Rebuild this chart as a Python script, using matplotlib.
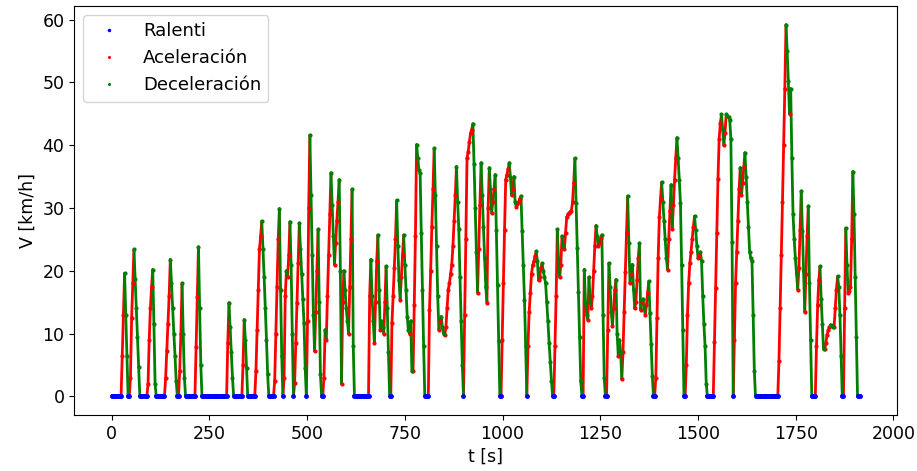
import numpy as np
import matplotlib
matplotlib.use('Agg')
import matplotlib.pyplot as plt
from matplotlib.collections import LineCollection

# speed read every 3 s (t = 0, 3, ..., 1914)
t = np.arange(0, 1915, 3)
v = np.array([
    0, 0, 0, 0, 0, 0, 0, 0, 0, 6.5,
    13, 19.6, 13, 6.5, 0, 0, 3, 12.5, 18, 23.4,
    18.7, 14, 9.4, 4.7, 0, 0, 0, 0, 0, 0,
    0, 2, 9, 14, 17.5, 20.2, 11.5, 2, 0, 0,
    0, 0, 0, 0, 0, 0, 2.9, 7.3, 11.6, 16,
    21.8, 18, 14, 10, 6.5, 2.5, 0, 0, 4, 10,
    18, 10, 3, 0, 0, 0, 0, 0, 0, 0,
    0, 0, 7.9, 15.9, 23.8, 14, 5, 0, 0, 0,
    0, 0, 0, 0, 0, 0, 0, 0, 0, 0,
    0, 0, 0, 0, 0, 0, 0, 0, 0, 8.5,
    14.9, 11, 7, 3, 0, 0, 0, 0, 0, 0,
    0, 0, 5, 12.2, 9, 4.5, 0, 0, 0, 0,
    0, 0, 0, 4, 10.5, 17, 23.4, 25.5, 27.9, 23.5,
    19, 14, 9, 3.5, 0, 0, 0, 0, 0, 2.5,
    10, 17.5, 25, 29.9, 17, 6.5, 0, 3, 16, 20,
    19, 22.5, 27.8, 21, 10, 0, 2.1, 8.5, 14.9, 21.2,
    27.6, 23.5, 19.5, 15.5, 11.7, 4.5, 0, 12, 30, 41.6,
    32, 22.5, 13, 7.2, 13.5, 20, 26.6, 15, 3.5, 0,
    0, 3, 10.6, 9, 16, 22.5, 29, 35.6, 30.5, 25.5,
    21, 24.5, 28, 31, 34.5, 20, 2, 15, 20, 17,
    14, 12, 10, 17.5, 25, 33, 8, 0, 0, 0,
    0, 0, 0, 0, 0, 0, 0, 0, 0, 0,
    16, 21.8, 16, 12, 8.5, 15, 21.5, 25.7, 17, 10.6,
    12, 11, 10, 15, 20.7, 14, 7, 0, 0, 11.7,
    16, 20.5, 25, 31.2, 24, 18.5, 15.4, 19, 22.5, 25.7,
    21, 17, 12.7, 10.5, 10, 12, 4, 4, 14.5, 25.5,
    40.1, 38, 36, 35.6, 26, 17, 8, 0, 0, 0,
    0, 13.8, 20, 27, 33, 39.5, 32, 24, 16, 10.6,
    12, 12.7, 11, 10, 9.8, 11, 14, 17, 18, 19.5,
    21, 24, 28, 32, 36.6, 31, 26.6, 19, 12, 5,
    0, 13, 25, 37.9, 39, 40.5, 41.9, 42.5, 43.4, 37,
    30, 23, 16.5, 23.5, 30.5, 37.2, 32, 27, 22, 17.5,
    14.9, 30, 36.4, 33, 29.2, 31, 33, 35.3, 26.5, 17.7,
    8.8, 0, 0, 9, 18, 26.5, 34.5, 35.3, 36.2, 37.2,
    35, 32, 33, 35, 31, 30.2, 30.6, 31, 31.5, 31.9,
    26.4, 20.9, 15.4, 8, 0, 8, 13.5, 16.5, 19.5, 20.9,
    21.5, 22.3, 23.1, 21.5, 18.5, 19, 20.5, 21.2, 20, 19,
    18, 15, 12, 8.5, 5.5, 2.5, 0, 0, 8, 16,
    26.6, 22, 19, 21, 25.5, 24, 23.4, 26, 28.5, 29,
    29.2, 29.4, 29.6, 31, 34, 37.9, 30.8, 23.7, 16.6, 9.5,
    2.4, 0, 0, 20.2, 15, 13, 12.2, 19, 15, 14,
    16, 20, 24, 27.2, 25.5, 23.9, 24.5, 25.2, 25.7, 13,
    3, 0, 0, 10.5, 21.2, 17.5, 13.5, 11.2, 14, 17,
    18.6, 10, 6.4, 9, 7, 2.7, 7, 13.5, 19.8, 26,
    31.9, 24.5, 18, 19.5, 21, 17, 14, 15, 18.5, 22,
    24.4, 13.8, 15, 15.5, 14, 13, 14.5, 16.5, 18.3, 13.3,
    8.3, 3.3, 0, 0, 3, 12.5, 22, 28.5, 31.5, 34.1,
    31, 28, 25, 22, 20.2, 25, 29.5, 33.7, 26.6, 30.5,
    34.5, 38, 41.2, 38, 34.5, 30.8, 21, 10.5, 0, 0,
    5, 13, 18, 21.2, 23, 25, 27, 28.7, 26.5, 24,
    22, 22.5, 23, 21.5, 16, 11.5, 8, 2, 0, 0,
    0, 0, 0, 0, 8.7, 17.3, 26, 34.6, 41, 43.5,
    44.9, 42.5, 40, 42, 44.9, 44.7, 44.5, 44.1, 41, 24.6,
    0, 9, 18, 23, 28, 33, 36.4, 32, 34, 36.5,
    38.8, 35, 31, 27, 23, 22, 21.5, 13, 4, 0,
    0, 0, 0, 0, 0, 0, 0, 0, 0, 0,
    0, 0, 0, 0, 0, 0, 0, 0, 0, 5.6,
    14, 22.5, 31, 40, 49, 59.2, 55, 50.2, 45, 49,
    38, 29, 25, 22, 19.5, 17, 20.5, 26.5, 32.7, 26.3,
    19.9, 13.5, 19.5, 25.5, 30.3, 18, 9, 0, 0, 0,
    0, 8, 14.5, 18.5, 20.7, 15.5, 11.5, 7.5, 7.5, 8.5,
    9.8, 10.5, 11, 11.4, 11.2, 11, 11, 14, 17, 19.1,
    17.5, 13, 6.5, 0, 0, 14, 26.8, 21, 16.5, 16.8,
    17.5, 25, 35.8, 29, 19, 9.5, 0, 0, 0,
])

# classify: idle (v == 0), accelerating, decelerating/steady
dv = np.diff(v, append=v[-1])
ralenti = v == 0
acel = (~ralenti) & (dv > 0)
decel = (~ralenti) & (dv <= 0)

# segment class (start point): rising -> acel, idle at 0 -> ralenti, else decel
seg_dv = np.diff(v)
seg_idle = (seg_dv == 0) & (v[:-1] == 0)
seg_acel = seg_dv > 0
seg_decel = ~(seg_idle | seg_acel)
segs = np.stack([np.column_stack([t[:-1], v[:-1]]),
                 np.column_stack([t[1:], v[1:]])], axis=1)

plt.rcParams['font.size'] = 12.5
fig = plt.figure(figsize=(9.17, 4.71), dpi=100)
ax = fig.add_axes([0.081, 0.119, 0.8975, 0.868])

for mask, col, lw in [(seg_idle, 'b', 2.6), (seg_acel, 'r', 2.0), (seg_decel, 'g', 2.0)]:
    lc = LineCollection(segs[mask], colors=col, linewidths=lw, capstyle='round')
    ax.add_collection(lc)

ax.plot(t[ralenti], v[ralenti], 'b.', markersize=5, label='Ralenti')
ax.plot(t[acel], v[acel], 'r.', markersize=4, label='Aceleración')
ax.plot(t[decel], v[decel], 'g.', markersize=4, label='Deceleración')

ax.set_xlabel('t [s]')
ax.set_ylabel('V [km/h]')
ax.set_xticks([0, 250, 500, 750, 1000, 1250, 1500, 1750, 2000])
ax.legend(loc='upper left', markerscale=0.6, fontsize=13, handletextpad=0.9)

fig.savefig('out.png')
